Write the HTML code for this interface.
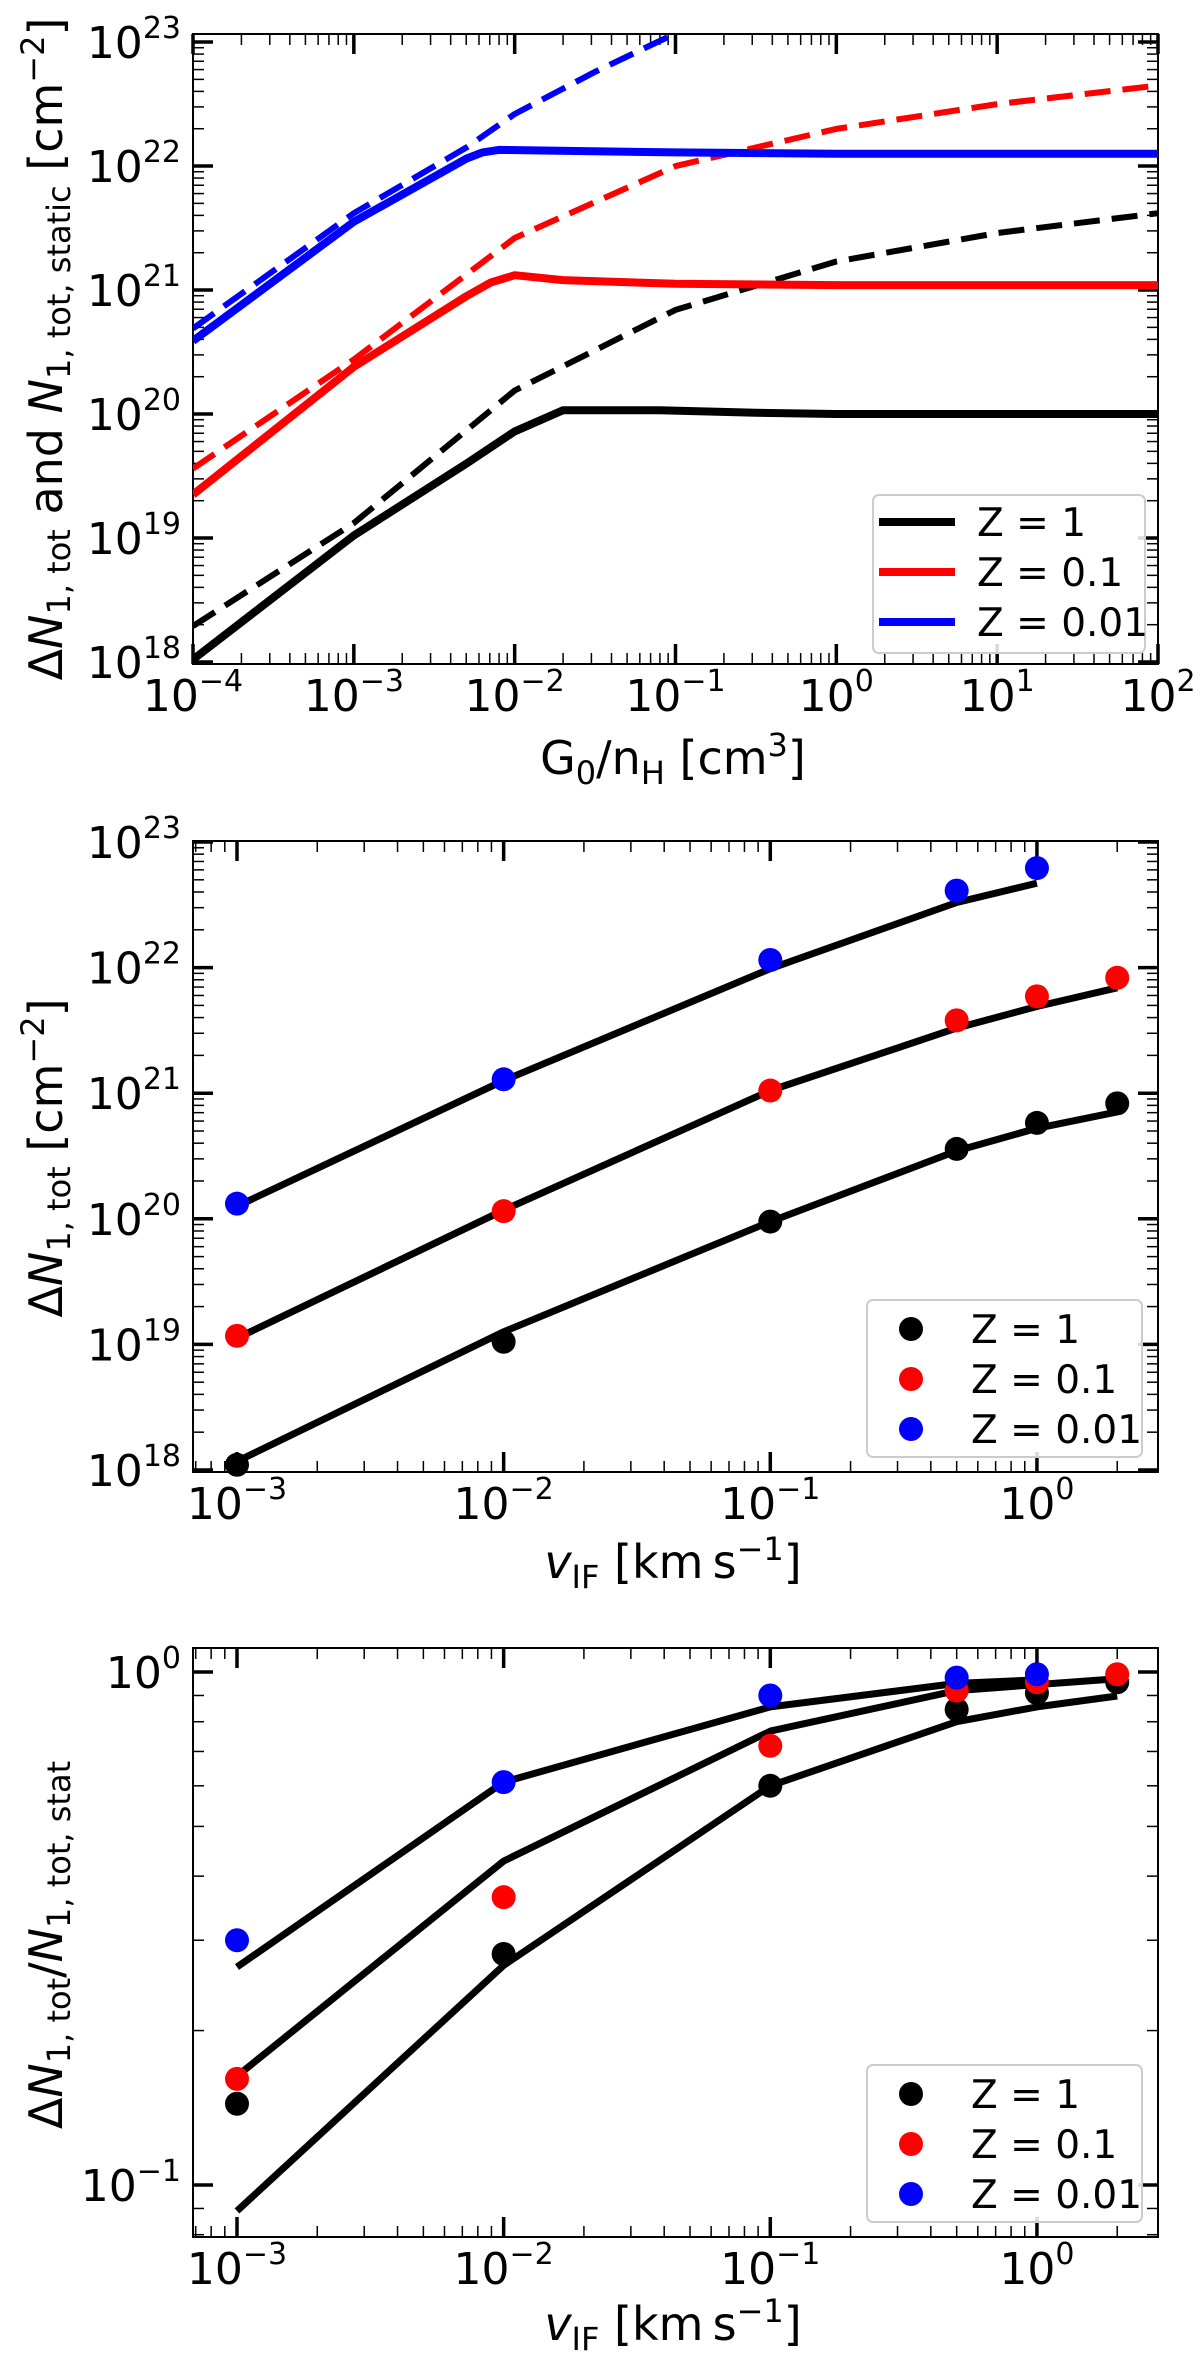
<!DOCTYPE html>
<html><head><meta charset="utf-8">
<style>
html,body{margin:0;padding:0;background:#fff;}
svg{display:block;font-family:"DejaVu Sans","Liberation Sans",sans-serif;}
</style></head>
<body>
<svg id="fig" width="1200" height="2359" viewBox="0 0 1200 2359" xmlns="http://www.w3.org/2000/svg">
<g id="p1"></g>
<g id="p2"></g>
<g id="p3"></g>
</svg>
<script>
// ---------- Panel 1 data (log10 x, log10 y) ----------
const p1BlackSolidX = [-4,-3,-2.3,-2,-1.7,-1.1,-0.5,0,1,2];
const p1BlackSolidY = [18.02,19.02,19.6,19.86,20.03,20.03,20.01,20.0,20.0,20.0];
const p1BlackDashX = [-4,-3,-2,-1,0,1,2];
const p1BlackDashY = [18.29,19.12,20.19,20.84,21.23,21.46,21.62];
const p1RedSolidX = [-4,-3,-2.3,-2.15,-2,-1.7,-1,0,1,2];
const p1RedSolidY = [19.35,20.38,20.95,21.06,21.12,21.08,21.05,21.04,21.04,21.04];
const p1RedDashX = [-4,-3,-2,-1,0,1,2];
const p1RedDashY = [19.56,20.44,21.42,22.0,22.3,22.5,22.65];
const p1BlueSolidX = [-4,-3,-2.3,-2.2,-2.1,-1,0,1,2];
const p1BlueSolidY = [20.59,21.55,22.06,22.11,22.13,22.11,22.1,22.1,22.1];
const p1BlueDashX = [-4,-3,-2.3,-2,-1.5,-1];
const p1BlueDashY = [20.69,21.62,22.15,22.42,22.76,23.07];
const p1XTicks = [-4,-3,-2,-1,0,1,2];
const p1YTicks = [18,19,20,21,22,23];
const legendLabels = ["Z = 1","Z = 0.1","Z = 0.01"];
const seriesColors = ["#000000","#ff0000","#0000ff"];

// ---------- Panel 2 & 3 data ----------
const vif = [0.001,0.01,0.1,0.5,1,2];
const p2BlackPts = [1.1e18,1.05e19,9.5e19,3.6e20,5.8e20,8.3e20];
const p2RedPts = [1.17e19,1.15e20,1.05e21,3.8e21,5.9e21,8.3e21];
const p2BluePts = [1.32e20,1.29e21,1.15e22,4.1e22,6.2e22];
const p2BlackLine = [1.17e18,1.26e19,9.5e19,3.47e20,5.25e20,7.1e20];
const p2RedLine = [1.12e19,1.17e20,1.05e21,3.3e21,4.9e21,6.9e21];
const p2BlueLine = [1.26e20,1.26e21,9.8e21,3.3e22,4.7e22];
const p2XTicks = [-3,-2,-1,0];
const p2YTicks = [18,19,20,21,22,23];
const p3BlackPts = [0.144,0.282,0.60,0.845,0.91,0.955];
const p3RedPts = [0.161,0.364,0.718,0.92,0.955,0.99];
const p3BluePts = [0.30,0.61,0.90,0.975,0.99];
const p3BlackLine = [0.089,0.268,0.60,0.80,0.855,0.898];
const p3RedLine = [0.163,0.428,0.767,0.92,0.945,0.97];
const p3BlueLine = [0.266,0.61,0.855,0.95,0.965];
const p3XTicks = [-3,-2,-1,0];
const p3YTicks = [-1,0];

const NS = "http://www.w3.org/2000/svg";
function mk(parent, tag, attrs){
  const e = document.createElementNS(NS, tag);
  for (const k in attrs) e.setAttribute(k, attrs[k]);
  parent.appendChild(e);
  return e;
}
function axis(L,R,T,B,x0,x1,y0,y1){
  return {L,R,T,B,
    sx: v => L + (v - x0) / (x1 - x0) * (R - L),
    sy: v => B - (v - y0) / (y1 - y0) * (B - T),
    x0,x1,y0,y1};
}
function frameAndTicks(g, ax, xTicks, yTicks, xMinorRange, yMinorRange){
  const clipId = g.id + "-clip";
  const cp = mk(g, "clipPath", {id: clipId});
  mk(cp, "rect", {x: ax.L, y: ax.T, width: ax.R - ax.L, height: ax.B - ax.T});
  for (let d = xMinorRange[0]; d <= xMinorRange[1]; d++){
    for (let m = 2; m <= 9; m++){
      const lv = d + Math.log10(m);
      if (lv < ax.x0 || lv > ax.x1) continue;
      const x = ax.sx(lv);
      const t1 = mk(g, "line", {x1:x, x2:x, y1:ax.B, y2:ax.B-11, stroke:"#000","stroke-width":1.5});
      
      
      const t2 = mk(g, "line", {x1:x, x2:x, y1:ax.T, y2:ax.T+11, stroke:"#000","stroke-width":1.5});
      
      
    }
  }
  for (let d = yMinorRange[0]; d <= yMinorRange[1]; d++){
    for (let m = 2; m <= 9; m++){
      const lv = d + Math.log10(m);
      if (lv < ax.y0 || lv > ax.y1) continue;
      const y = ax.sy(lv);
      const t1 = mk(g, "line", {x1:ax.L, x2:ax.L+11, y1:y, y2:y, stroke:"#000","stroke-width":1.5});
      
      
      const t2 = mk(g, "line", {x1:ax.R, x2:ax.R-11, y1:y, y2:y, stroke:"#000","stroke-width":1.5});
      
      
    }
  }
  xTicks.forEach(v => {
    const x = ax.sx(v);
    const t1 = mk(g, "line", {x1:x, x2:x, y1:ax.B, y2:ax.B-20, stroke:"#000","stroke-width":3.5});
    
    
    const t2 = mk(g, "line", {x1:x, x2:x, y1:ax.T, y2:ax.T+20, stroke:"#000","stroke-width":3.5});
    
    
    const tx = mk(g, "text", {x:x, y:ax.B+47, "text-anchor":"middle", "font-size":44, fill:"#000"});
    
    
    const a = mk(tx, "tspan", {}); a.textContent = "10";
    const b = mk(tx, "tspan", {dy:-20, "font-size":30}); b.textContent = (v < 0 ? "\u2212" + (-v) : "" + v);
  });
  yTicks.forEach(v => {
    const y = ax.sy(v);
    const t1 = mk(g, "line", {x1:ax.L, x2:ax.L+20, y1:y, y2:y, stroke:"#000","stroke-width":3.5});
    
    
    const t2 = mk(g, "line", {x1:ax.R, x2:ax.R-20, y1:y, y2:y, stroke:"#000","stroke-width":3.5});
    
    
    const tx = mk(g, "text", {x:ax.L-12, y:y+16, "text-anchor":"end", "font-size":44, fill:"#000"});
    
    
    const a = mk(tx, "tspan", {}); a.textContent = "10";
    const b = mk(tx, "tspan", {dy:-20, "font-size":30}); b.textContent = (v < 0 ? "\u2212" + (-v) : "" + v);
  });
  const fr = mk(g, "rect", {x:ax.L, y:ax.T, width:ax.R-ax.L, height:ax.B-ax.T, fill:"none", stroke:"#000", "stroke-width":2});
  
  
  return "url(#" + clipId + ")";
}
function polyline(g, ax, xs, ys, color, width, dash, clip, name){
  const pts = xs.map((x,i) => ax.sx(x).toFixed(1) + "," + ax.sy(ys[i]).toFixed(1)).join(" ");
  const attrs = {points:pts, fill:"none", stroke:color, "stroke-width":width, "stroke-linejoin":"round", "clip-path":clip};
  if (dash) attrs["stroke-dasharray"] = dash;
  const p = mk(g, "polyline", attrs);
  
  
}
function dots(g, ax, xs, ys, color, name){
  ys.forEach((v,i) => {
    const c = mk(g, "circle", {cx:ax.sx(Math.log10(xs[i])), cy:ax.sy(Math.log10(v)), r:12, fill:color});
    
    
  });
}
function legend(g, x, y, w, h, rows, kind){
  const lg = mk(g, "g", {});
  
  
  mk(lg, "rect", {x, y, width:w, height:h, rx:6, fill:"#fff", "fill-opacity":0.85, stroke:"#ccc", "stroke-width":2});
  legendLabels.forEach((lab, i) => {
    const cy = rows[i];
    const e = mk(lg, "g", {});
    
    
    if (kind === "line") mk(e, "line", {x1:x+6, x2:x+82, y1:cy, y2:cy, stroke:seriesColors[i], "stroke-width":8});
    else mk(e, "circle", {cx:x+44, cy:cy, r:12, fill:seriesColors[i]});
    const t = mk(e, "text", {x:x+104, y:cy+14, "font-size":39, fill:"#000"});
    t.textContent = lab;
  });
}
function ylabel(g, cx, cy, parts){
  const t = mk(g, "text", {transform:`translate(${cx},${cy}) rotate(-90)`, "text-anchor":"middle", "font-size":46, fill:"#000"});
  
  
  parts.forEach(p => {
    const s = mk(t, "tspan", p.a || {});
    s.textContent = p.t;
  });
}
function xlabel(g, cx, by, parts){
  const t = mk(g, "text", {x:cx, y:by, "text-anchor":"middle", "font-size":46, fill:"#000"});
  
  
  parts.forEach(p => { const s = mk(t, "tspan", p.a || {}); s.textContent = p.t; });
}

// ---------- Panel 1 ----------
{
  const g = document.getElementById("p1");
  const ax = axis(193, 1158, 34, 664, -4, 2, 17.984, 23.065);
  const clip = frameAndTicks(g, ax, p1XTicks, p1YTicks, [-4,1], [17,23]);
  polyline(g, ax, p1BlackDashX, p1BlackDashY, "#000", 6, "26 12", clip, "dashed-static-z1");
  polyline(g, ax, p1RedDashX, p1RedDashY, "#f00", 6, "26 12", clip, "dashed-static-z0.1");
  polyline(g, ax, p1BlueDashX, p1BlueDashY, "#00f", 6, "26 12", clip, "dashed-static-z0.01");
  polyline(g, ax, p1BlackSolidX, p1BlackSolidY, "#000", 8, null, clip, "solid-z1");
  polyline(g, ax, p1RedSolidX, p1RedSolidY, "#f00", 8, null, clip, "solid-z0.1");
  polyline(g, ax, p1BlueSolidX, p1BlueSolidY, "#00f", 8, null, clip, "solid-z0.01");
  legend(g, 873, 495, 272, 158, [522,572,622], "line");
  ylabel(g, 62, 349, [
    {t:"\u0394"},{t:"N",a:{"font-style":"italic"}},{t:"1, tot",a:{"font-size":32,dy:8}},
    {t:" and ",a:{dy:-8}},{t:"N",a:{"font-style":"italic"}},{t:"1, tot, static",a:{"font-size":32,dy:8}},
    {t:" [cm",a:{dy:-8}},{t:"\u22122",a:{"font-size":32,dy:-18}},{t:"]",a:{dy:18}}]);
  xlabel(g, 673, 774, [{t:"G"},{t:"0",a:{"font-size":32,dy:10}},{t:"/n",a:{dy:-10}},{t:"H",a:{"font-size":32,dy:10}},
    {t:" [cm",a:{dy:-10}},{t:"3",a:{"font-size":32,dy:-18}},{t:"]",a:{dy:18}}]);
}
// ---------- Panel 2 ----------
{
  const g = document.getElementById("p2");
  const ax = axis(193, 1158, 841, 1472, -3.165, 0.454, 17.984, 23.008);
  const clip = frameAndTicks(g, ax, p2XTicks, p2YTicks, [-4,0], [17,23]);
  const lx = vif.map(v => Math.log10(v));
  const lg = a => a.map(v => Math.log10(v));
  polyline(g, ax, lx.slice(0,p2BlackLine.length), lg(p2BlackLine), "#000", 7, null, clip, "model-line-z1");
  polyline(g, ax, lx.slice(0,p2RedLine.length), lg(p2RedLine), "#000", 7, null, clip, "model-line-z0.1");
  polyline(g, ax, lx.slice(0,p2BlueLine.length), lg(p2BlueLine), "#000", 7, null, clip, "model-line-z0.01");
  dots(g, ax, vif, p2BlackPts, "#000", "point-z1");
  dots(g, ax, vif, p2RedPts, "#f00", "point-z0.1");
  dots(g, ax, vif, p2BluePts, "#00f", "point-z0.01");
  legend(g, 867, 1300, 275, 157, [1329,1379,1429], "dot");
  ylabel(g, 62, 1158, [{t:"\u0394"},{t:"N",a:{"font-style":"italic"}},{t:"1, tot",a:{"font-size":32,dy:8}},
    {t:" [cm",a:{dy:-8}},{t:"\u22122",a:{"font-size":32,dy:-18}},{t:"]",a:{dy:18}}]);
  xlabel(g, 673, 1578, [{t:"v",a:{"font-style":"italic"}},{t:"IF",a:{"font-size":32,dy:10}},{t:" [km\u2009s",a:{dy:-10}},
    {t:"\u22121",a:{"font-size":32,dy:-18}},{t:"]",a:{dy:18}}]);
}
// ---------- Panel 3 ----------
{
  const g = document.getElementById("p3");
  const ax = axis(193, 1158, 1648, 2237, -3.165, 0.454, -1.1014, 0.0468);
  const clip = frameAndTicks(g, ax, p3XTicks, p3YTicks, [-4,0], [-2,0]);
  const lx = vif.map(v => Math.log10(v));
  const lg = a => a.map(v => Math.log10(v));
  polyline(g, ax, lx.slice(0,p3BlackLine.length), lg(p3BlackLine), "#000", 7, null, clip, "ratio-line-z1");
  polyline(g, ax, lx.slice(0,p3RedLine.length), lg(p3RedLine), "#000", 7, null, clip, "ratio-line-z0.1");
  polyline(g, ax, lx.slice(0,p3BlueLine.length), lg(p3BlueLine), "#000", 7, null, clip, "ratio-line-z0.01");
  dots(g, ax, vif, p3BlackPts, "#000", "ratio-point-z1");
  dots(g, ax, vif, p3RedPts, "#f00", "ratio-point-z0.1");
  dots(g, ax, vif, p3BluePts, "#00f", "ratio-point-z0.01");
  legend(g, 867, 2065, 275, 157, [2094,2144,2194], "dot");
  ylabel(g, 62, 1945, [{t:"\u0394"},{t:"N",a:{"font-style":"italic"}},{t:"1, tot",a:{"font-size":32,dy:8}},
    {t:"/",a:{dy:-8}},{t:"N",a:{"font-style":"italic"}},{t:"1, tot, stat",a:{"font-size":32,dy:8}}]);
  xlabel(g, 673, 2340, [{t:"v",a:{"font-style":"italic"}},{t:"IF",a:{"font-size":32,dy:10}},{t:" [km\u2009s",a:{dy:-10}},
    {t:"\u22121",a:{"font-size":32,dy:-18}},{t:"]",a:{dy:18}}]);
}
</script>
</body></html>
